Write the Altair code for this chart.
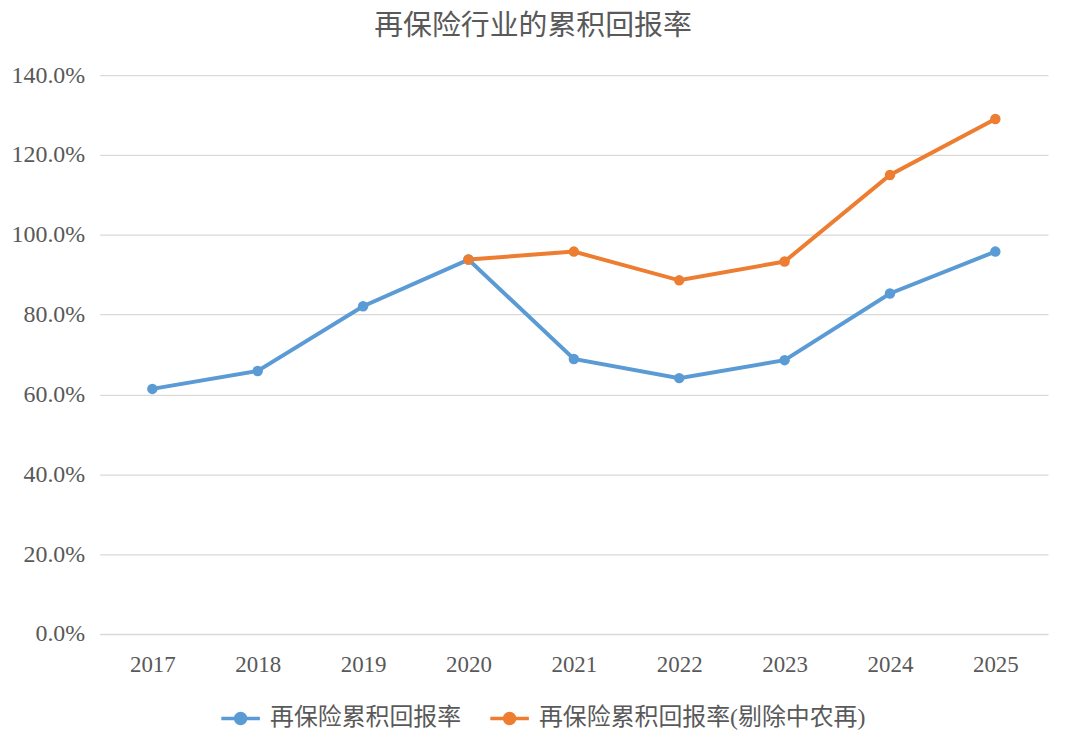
import altair as alt
import pandas as pd

years = ["2017", "2018", "2019", "2020", "2021", "2022", "2023", "2024", "2025"]
series_a_name = "再保险累积回报率"
series_a = [61.4, 65.9, 82.1, 93.8, 68.9, 64.1, 68.6, 85.3, 95.8]
series_b_name = "再保险累积回报率(剔除中农再)"
series_b_years = ["2020", "2021", "2022", "2023", "2024", "2025"]
series_b = [93.8, 95.8, 88.6, 93.3, 115.0, 129.0]

rows = []
for y, v in zip(years, series_a):
    rows.append({"year": y, "value": v / 100, "series": series_a_name, "order": 0})
for y, v in zip(series_b_years, series_b):
    rows.append({"year": y, "value": v / 100, "series": series_b_name, "order": 1})
df = pd.DataFrame(rows)

FONT = "Liberation Serif, Noto Sans CJK SC"
legend_path = "M-1,0L1,0M-0.26,0A0.26,0.26 0 1,1 0.26,0A0.26,0.26 0 1,1 -0.26,0Z"

chart = (
    alt.Chart(df)
    .mark_line(strokeWidth=4, point=alt.OverlayMarkDef(size=110, filled=True))
    .encode(
        x=alt.X("year:N", sort=years, title=None,
                scale=alt.Scale(paddingInner=0, paddingOuter=0.5),
                axis=alt.Axis(labelAngle=0, ticks=False, domain=False, grid=False,
                              labelPadding=20, labelFontSize=23)),
        y=alt.Y("value:Q", title=None,
                scale=alt.Scale(domain=[0, 1.4]),
                axis=alt.Axis(format=".1%", values=[0, 0.2, 0.4, 0.6, 0.8, 1.0, 1.2, 1.4],
                              ticks=False, domain=False, labelPadding=15, labelFontSize=24,
                              gridColor="#D9D9D9", gridWidth=1.3)),
        color=alt.Color("series:N", sort=[series_a_name, series_b_name],
                        scale=alt.Scale(domain=[series_a_name, series_b_name],
                                        range=["#5B9BD5", "#ED7D31"]),
                        legend=alt.Legend(title=None, orient="none", direction="horizontal",
                                          legendX=120, legendY=624,
                                          symbolType=legend_path, symbolSize=1500,
                                          symbolStrokeWidth=3.5, labelFontSize=24,
                                          labelFont=FONT, labelColor="#595959",
                                          columnPadding=22, labelOffset=8,
                                          labelLimit=500)),
        order="order:Q",
    )
    .properties(
        width=952, height=561,
        title=alt.TitleParams("再保险行业的累积回报率", fontSize=29, font=FONT,
                              color="#595959", fontWeight="normal", offset=22, dx=-41),
        autosize=alt.AutoSizeParams(type="none"),
        padding={"left": 92, "top": 66, "right": 10, "bottom": 105},
    )
    .configure_view(stroke=None)
    .configure_axis(labelFont=FONT, labelColor="#595959")
)

chart.save("out.html", embed_options={"renderer": "svg", "actions": False})
